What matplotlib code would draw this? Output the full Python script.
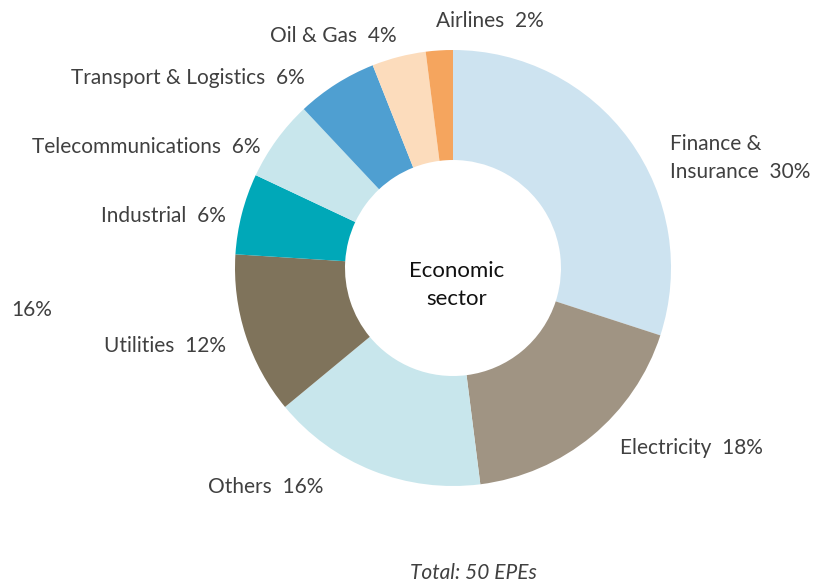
import matplotlib.pyplot as plt

# Data
sectors = ['Finance &\nInsurance', 'Electricity', 'Others', 'Utilities', 'Industrial',
           'Telecommunications', 'Transport & Logistics', 'Oil & Gas', 'Airlines']
counts = [15, 9, 8, 6, 3, 3, 3, 2, 1]
colors = ['#cde3f0', '#a09483', '#c8e6ec', '#7f735b', '#00a8b8',
          '#c8e6ec', '#4f9fd1', '#fcdcbc', '#f5a55e']
total_label = 'Total: 50 EPEs'

W, H = 818, 583
plt.rcParams['font.family'] = ['Lato', 'DejaVu Sans']

fig = plt.figure(figsize=(W / 100, H / 100), dpi=100)
ax = fig.add_axes([0, 0, 1, 1])
ax.set_xlim(0, W)
ax.set_ylim(0, H)
ax.set_aspect('equal')

ax.pie(counts, colors=colors, startangle=90, counterclock=False,
       center=(453, H - 268), radius=218, frame=True,
       wedgeprops=dict(width=110, edgecolor='none'))
ax.axis('off')

pct = [round(100 * c / sum(counts)) for c in counts]

# label layout: (x, y from top, ha)
label_pos = [(670, 158, 'left'), (620, 448, 'left'), (266, 487, 'center'),
             (226, 346, 'right'), (226, 216, 'right'), (260, 147, 'right'),
             (305, 78, 'right'), (397, 36, 'right'), (490, 21, 'center')]
txt_kw = dict(fontsize=15, color='#404040', va='center')
for name, p, (x, y, ha) in zip(sectors, pct, label_pos):
    ax.text(x, H - y, f'{name}  {p}%', ha=ha, linespacing=1.45, **txt_kw)

# stray label on the left
ax.text(32, H - 310, f'{pct[2]}%', ha='center', **txt_kw)

ax.text(457, H - 285, 'Economic\nsector', ha='center', va='center',
        fontsize=16, color='#111111', linespacing=1.45)
ax.text(473, H - 573, total_label, ha='center', va='center', style='italic',
        fontsize=15, color='#404040')

fig.savefig('out.png', dpi=100)
